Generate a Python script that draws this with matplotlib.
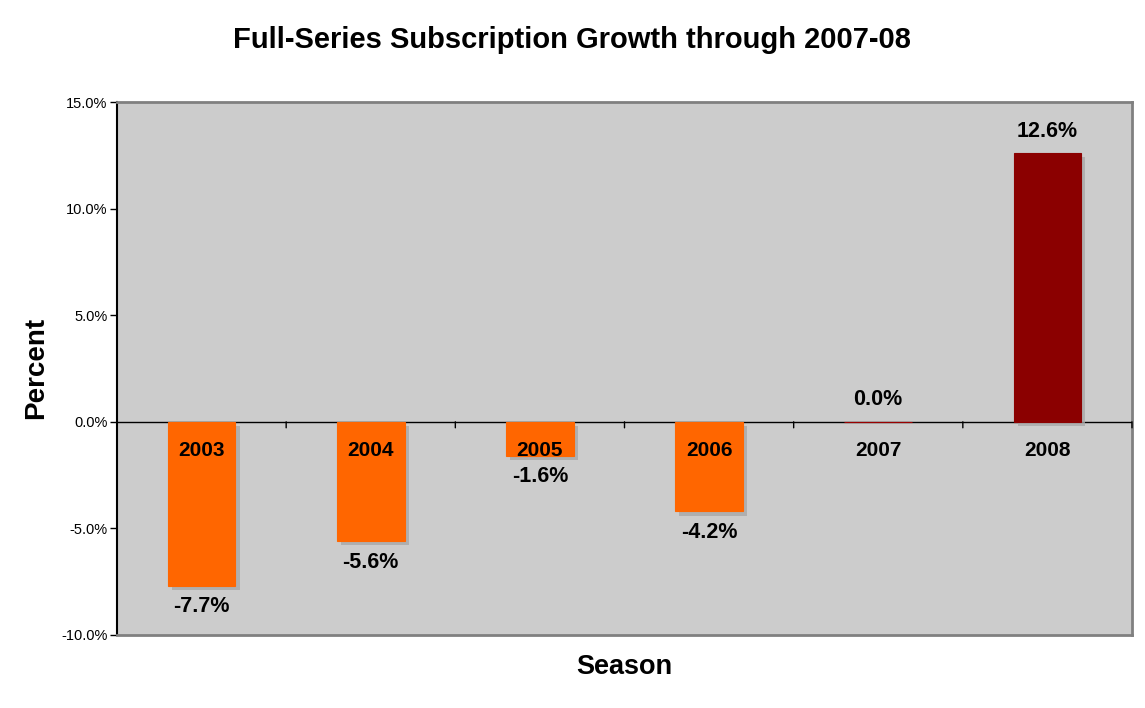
import matplotlib
matplotlib.use("Agg")
import matplotlib.pyplot as plt
import matplotlib.patheffects as pe
from matplotlib.ticker import FuncFormatter, MultipleLocator

seasons = ["2003", "2004", "2005", "2006", "2007", "2008"]
growth = [-7.7, -5.6, -1.6, -4.2, 0.0, 12.6]
colors = ["#FF6600", "#FF6600", "#FF6600", "#FF6600", "#990000", "#8B0000"]

plt.rcParams['font.family'] = ['Liberation Sans', 'DejaVu Sans']

fig = plt.figure(figsize=(11.45, 7.08), dpi=100)
ax = fig.add_axes([117/1145, 1-635/708, (1132-117)/1145, (635-102)/708])
ax.set_facecolor("#CCCCCC")

x = list(range(len(seasons)))
bars = ax.bar(x, growth, width=0.4, color=colors, edgecolor=colors, linewidth=0.8, zorder=3)
for b in bars:
    b.set_path_effects([pe.SimplePatchShadow(offset=(3, -3), shadow_rgbFace="#A8A8A8", alpha=0.8), pe.Normal()])

ax.set_xlim(-0.5, len(seasons) - 0.5)
ax.set_ylim(-10, 15)
ax.yaxis.set_major_locator(MultipleLocator(5))
ax.yaxis.set_major_formatter(FuncFormatter(lambda v, p: f"{v:.1f}%"))
ax.tick_params(axis='y', labelsize=10.5, length=5, width=1, color='black', direction='out', pad=2)
ax.set_xticks([])

# zero axis line with category ticks
ax.axhline(0, color='black', lw=1, zorder=2.9)
for i in range(len(seasons) + 1):
    ax.annotate("", xy=(i - 0.5, 0), xytext=(0, -6), textcoords='offset pixels',
                arrowprops=dict(arrowstyle='-', color='black', lw=1, shrinkA=0, shrinkB=0), zorder=4)

for s in ['top', 'right', 'bottom']:
    ax.spines[s].set_color('#808080')
    ax.spines[s].set_linewidth(2)
ax.spines['left'].set_color('black')
ax.spines['left'].set_linewidth(1.5)

for i, (s, v) in enumerate(zip(seasons, growth)):
    ax.annotate(s, xy=(i, 0), xytext=(0, -29), textcoords='offset pixels',
                ha='center', va='center', fontsize=15, fontweight='bold', zorder=5)
    off = 22 if v >= 0 else -21
    ax.annotate(f"{v:.1f}%", xy=(i, v), xytext=(0, off), textcoords='offset pixels',
                ha='center', va='center', fontsize=15.5, fontweight='bold', zorder=5)

fig.text(572/1145, 1-40/708, "Full-Series Subscription Growth through 2007-08",
         ha='center', va='center', fontsize=21, fontweight='bold')
fig.text(624/1145, 1-667/708, "Season", ha='center', va='center', fontsize=19.5, fontweight='bold')
fig.text(36/1145, 1-368/708, "Percent", ha='center', va='center', fontsize=20,
         fontweight='bold', rotation=90)

fig.savefig("out.png", dpi=100)
